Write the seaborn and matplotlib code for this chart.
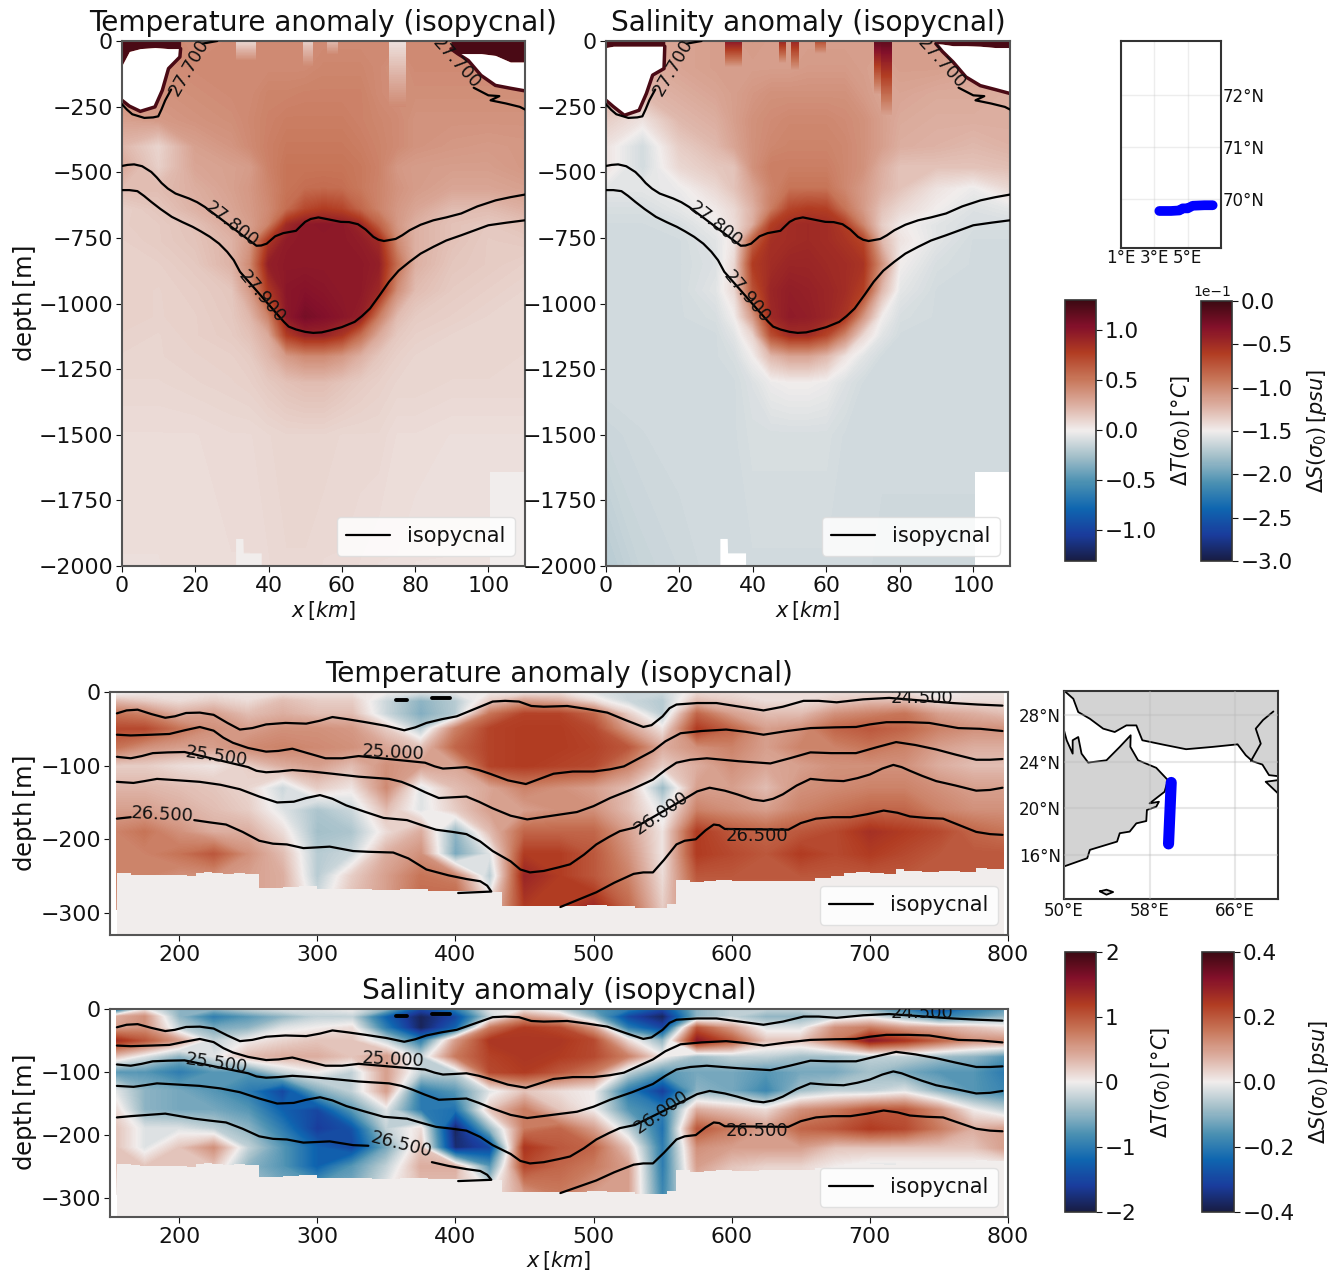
import numpy as np
import matplotlib
matplotlib.use('Agg')
import matplotlib.pyplot as plt
import seaborn as sns
from matplotlib.cm import ScalarMappable
from matplotlib.colors import Normalize

# --- colormap stops (red/blue diverging, pale centre)
balance_colors = ['#181c43', '#1a3c9c', '#0f66b0', '#4a90b2', '#a3bfc9', '#f1edec',
                  '#dcaea0', '#c77558', '#b13c22', '#83102a', '#3c0912']

# --- Norwegian Sea section
sec1_x = [0, 10, 20, 30, 35, 40, 45, 50, 55, 60, 65, 70, 75, 80, 90, 100, 110]
sec1_z = [0, -100, -200, -300, -400, -480, -560, -640, -700, -760, -850, -950, -1050, -1120, -1200, -1300, -1500, -2000]
sec1_temp = [
    [.55, .45, .40, .42, .42, .42, .42, .42, .42, .42, .42, .42, .42, .42, .42, .42, .45],
    [.40, .40, .42, .42, .42, .42, .42, .42, .44, .44, .44, .42, .38, .42, .42, .42, .42],
    [.40, .38, .40, .42, .42, .45, .45, .46, .46, .46, .46, .42, .40, .40, .40, .40, .40],
    [.32, .35, .38, .40, .43, .46, .48, .48, .48, .48, .46, .44, .42, .38, .38, .38, .38],
    [.22, .10, .32, .37, .42, .47, .50, .50, .50, .50, .48, .45, .42, .38, .36, .35, .36],
    [.28, .12, .30, .32, .34, .46, .52, .52, .52, .52, .50, .46, .36, .34, .33, .33, .36],
    [.20, .20, .26, .32, .36, .44, .52, .55, .56, .55, .50, .45, .38, .34, .30, .30, .32],
    [.12, .16, .24, .30, .35, .42, .55, .72, .78, .74, .58, .45, .36, .30, .20, .20, .25],
    [.13, .14, .18, .28, .33, .45, .88, .98, .99, .98, .90, .60, .36, .25, .18, .15, .18],
    [.12, .14, .17, .24, .36, .80, .97, .98, .98, .98, .96, .88, .42, .25, .18, .14, .15],
    [.12, .12, .15, .24, .42, .95, .98, .98, .98, .98, .98, .95, .55, .25, .16, .14, .12],
    [.12, .11, .13, .16, .35, .80, 1.0, 1.02, 1.0, .98, .98, .90, .40, .20, .14, .12, .10],
    [.12, .11, .12, .15, .22, .45, .98, 1.08, 1.04, 1.0, .95, .48, .20, .14, .12, .10, .10],
    [.11, .10, .12, .14, .18, .28, .78, .92, .92, .82, .55, .28, .15, .12, .10, .10, .10],
    [.10, .10, .11, .12, .14, .22, .35, .42, .42, .36, .25, .16, .12, .10, .10, .10, .09],
    [.09, .09, .10, .11, .12, .15, .18, .20, .20, .17, .14, .12, .10, .10, .09, .09, .09],
    [.07, .07, .07, .08, .08, .09, .10, .10, .10, .09, .09, .09, .07, .07, .06, .06, .06],
    [.06, .06, .07, .07, .07, .08, .09, .09, .08, .08, .07, .06, .06, .05, .05, .05, .05],
]
sec1_salt = [
    [-1.0, -1.15, -1.15, -1.12, -1.12, -1.1, -1.12, -1.12, -1.12, -1.12, -1.12, -1.12, -1.12, -1.12, -1.12, -1.15, -1.15],
    [-1.2, -1.2, -1.15, -1.12, -1.12, -1.12, -1.12, -1.12, -1.1, -1.1, -1.1, -1.12, -1.15, -1.12, -1.12, -1.15, -1.15],
    [-1.2, -1.25, -1.2, -1.15, -1.12, -1.08, -1.05, -1.05, -1.05, -1.05, -1.05, -1.1, -1.15, -1.15, -1.18, -1.18, -1.2],
    [-1.35, -1.45, -1.25, -1.2, -1.12, -1.05, -1.02, -1.0, -1.0, -1.0, -1.02, -1.05, -1.12, -1.18, -1.2, -1.2, -1.2],
    [-1.45, -1.62, -1.35, -1.25, -1.15, -1.05, -1.0, -.98, -.98, -.98, -1.0, -1.05, -1.12, -1.2, -1.22, -1.25, -1.22],
    [-1.45, -1.62, -1.4, -1.32, -1.3, -1.05, -.95, -.95, -.95, -.95, -1.0, -1.05, -1.2, -1.3, -1.3, -1.3, -1.28],
    [-1.55, -1.55, -1.52, -1.4, -1.3, -1.15, -.98, -.9, -.9, -.9, -1.0, -1.1, -1.22, -1.3, -1.45, -1.52, -1.4],
    [-1.6, -1.6, -1.55, -1.48, -1.4, -1.22, -.95, -.65, -.6, -.62, -.9, -1.1, -1.3, -1.4, -1.5, -1.58, -1.55],
    [-1.62, -1.62, -1.6, -1.52, -1.42, -1.2, -.62, -.5, -.48, -.5, -.6, -1.0, -1.35, -1.48, -1.56, -1.6, -1.6],
    [-1.62, -1.62, -1.62, -1.56, -1.45, -.8, -.52, -.5, -.48, -.5, -.55, -.65, -1.25, -1.45, -1.56, -1.62, -1.62],
    [-1.62, -1.62, -1.62, -1.58, -1.4, -.6, -.5, -.45, -.45, -.48, -.5, -.55, -1.05, -1.5, -1.6, -1.62, -1.62],
    [-1.62, -1.62, -1.62, -1.56, -1.4, -.72, -.45, -.4, -.42, -.45, -.5, -.62, -1.25, -1.55, -1.62, -1.62, -1.62],
    [-1.62, -1.62, -1.62, -1.6, -1.5, -1.1, -.48, -.38, -.4, -.45, -.55, -1.08, -1.5, -1.6, -1.62, -1.62, -1.62],
    [-1.62, -1.62, -1.62, -1.62, -1.56, -1.38, -.7, -.5, -.5, -.65, -1.0, -1.4, -1.56, -1.62, -1.62, -1.62, -1.62],
    [-1.62, -1.62, -1.62, -1.62, -1.6, -1.5, -1.25, -1.15, -1.15, -1.25, -1.45, -1.56, -1.62, -1.62, -1.62, -1.62, -1.62],
    [-1.62, -1.62, -1.62, -1.62, -1.62, -1.58, -1.52, -1.5, -1.5, -1.52, -1.58, -1.62, -1.62, -1.62, -1.62, -1.62, -1.62],
    [-1.65, -1.63, -1.62, -1.62, -1.62, -1.6, -1.6, -1.6, -1.6, -1.6, -1.62, -1.62, -1.62, -1.62, -1.62, -1.62, -1.62],
    [-1.72, -1.66, -1.64, -1.62, -1.62, -1.62, -1.62, -1.62, -1.62, -1.62, -1.62, -1.62, -1.64, -1.64, -1.64, -1.64, -1.64],
]

# isopycnals, first section
iso277a_x = [0, 1.4, 2.8, 6.1, 8.5, 9.9, 10.8, 11.8, 13.4]
iso277a_y = [-241, -262, -279, -293, -291, -287, -260, -226, -185]
iso277b_x = [22, 26]
iso277b_y = [-10, 0]
iso277c_x = [96, 100, 103, 100.6, 104.8, 108.6, 110]
iso277c_y = [-178, -207, -210, -226, -238, -251, -261]
iso278_x = [0, 1.5, 3.3, 5.5, 8, 9.5, 10.8, 12.5, 14.6, 18.3, 20.5, 22.6, 36.7, 38, 39.5, 41.8, 44, 47.5, 48.8, 50, 51.5, 53.6, 56.5, 59.7, 62, 64.4, 66.5, 68.6, 70, 71.5, 74.7, 76.5, 78.5, 81.5, 85, 88.5, 92.6, 97, 102, 106, 110]
iso278_y = [-476, -472, -470, -477, -499, -520, -541, -562, -581, -600, -614, -632, -780, -779, -772, -744, -732, -723, -705, -689, -678, -672, -680, -689, -690, -698, -718, -746, -757, -762, -754, -740, -721, -700, -683, -672, -657, -630, -607, -595, -585]
iso279_x = [0, 2, 4.2, 6, 8, 10.5, 13.6, 16.5, 19.3, 21.5, 24, 26.5, 28.7, 30.5, 32.2, 44.2, 45.5, 47.5, 50, 52.2, 54.5, 56.9, 60, 63.5, 65.5, 67.7, 70.5, 72.9, 75.5, 78.5, 81.5, 85, 88.5, 92.6, 96.5, 100, 105, 110]
iso279_y = [-568, -568, -572, -590, -613, -640, -670, -690, -708, -725, -746, -772, -803, -835, -879, -1070, -1088, -1099, -1108, -1112, -1110, -1102, -1090, -1070, -1048, -1019, -965, -917, -875, -841, -810, -784, -760, -740, -720, -702, -692, -683]

# no-data pockets near the surface (x, upper edge, lower edge)
pocket_l_x = [0, 2, 5, 9, 11, 12.7, 15.8, 16]
pocket_r_x = [89.8, 91.6, 94.5, 98, 101.9, 106, 110]
temp_pocket_l_top = [-93, -40, -29, -25, -27, -29, -29, -29]
temp_pocket_l_bot = [-226, -248, -268, -251, -188, -105, -61, -29]
temp_pocket_r_top = [-30, -48, -48, -48, -55, -80, -80]
temp_pocket_r_bot = [-30, -48, -74, -131, -169, -180, -190]
salt_pocket_l_top = [-25, -20, -20, -20, -20, -20, -20, -20]
salt_pocket_l_bot = [-226, -250, -283, -264, -200, -130, -105, -20]
salt_pocket_r_top = [-10, -12, -18, -18, -20, -25, -25]
salt_pocket_r_bot = [-10, -40, -80, -137, -170, -185, -200]

# near-surface streaks (x left, x right, depth, top value, background value)
temp_streaks = [(31, 36.5, -75, .08, .42), (49.5, 52, -95, .12, .42), (73, 77.6, -250, .05, .42), (56, 59, -50, .2, .42)]
salt_streaks = [(32.5, 37, -100, -.35, -1.12), (47, 49, -85, -.45, -1.12), (50.5, 52.5, -115, -.45, -1.12),
                (73, 75, -200, -.15, -1.12), (75, 78, -280, -.15, -1.12), (57, 60, -50, -.7, -1.12)]

# empty cells at the bottom (x, upper edge)
hole1_x = [31, 33, 33.1, 38]
hole1_top = [-1895, -1895, -1950, -1950]
hole2_x = [100.5, 110]
hole2_top = [-1642, -1642]

# --- Arabian Sea section
sec2_x = [155, 175, 200, 225, 250, 275, 300, 325, 350, 375, 400, 425, 450, 475, 500, 525, 550, 575, 600, 625, 650, 675, 700, 725, 750, 775, 797]
sec2_z = [0, -12, -30, -50, -75, -100, -130, -160, -190, -220, -250, -295]
sec2_temp = [
    [-.1, .0, .05, .05, .05, .05, .05, .05, .0, -.1, -.05, .0, .0, .05, -.1, -.2, -.2, .1, .1, .1, .1, .1, .1, .1, -.1, .05, .05],
    [.3, .2, .1, .2, .1, .3, .2, .2, -.2, -.5, -.3, .2, .5, .4, .1, -.2, -.3, .3, .2, .1, .1, .2, .3, .3, .1, .1, .1],
    [.8, .7, .4, .5, .3, .4, .3, .3, -.2, -.55, -.3, .8, 1.15, 1.15, .9, .2, -.3, .9, .5, .3, .3, .6, .7, .8, .5, .4, .3],
    [1.1, 1.1, .8, .6, .5, .6, .6, .55, .2, -.3, .7, 1.15, 1.2, 1.2, 1.1, .5, .05, 1.2, .9, .5, .6, .9, 1.0, .9, .7, .6, .6],
    [.8, .6, .5, .5, .65, .7, .65, .6, .45, .25, .9, 1.15, 1.2, 1.2, 1.15, 1.0, .4, .6, .7, .5, .7, .7, .8, .7, .5, .4, .4],
    [.2, .2, .1, .05, .2, .4, .5, .3, .6, .5, .45, 1.15, 1.2, 1.15, 1.1, .7, .2, .4, .6, .45, .5, .6, .6, .6, .4, .3, .3],
    [.35, .35, .3, .25, .15, -.2, .2, .05, .65, -.1, .3, .45, .7, .6, .5, .3, -.45, .5, .5, .3, .6, .65, .7, .7, .6, .5, .5],
    [.5, .5, .4, .3, .2, -.1, -.35, -.2, .3, -.1, .2, .5, .5, .6, .6, .3, -.1, .7, .6, .5, .7, .8, .9, .9, .7, .6, .6],
    [.7, .8, .6, .4, .4, .1, -.4, -.35, .1, .4, -.5, .3, .9, .9, .9, .5, .05, 1.2, 1.0, .9, 1.0, 1.1, 1.3, 1.2, 1.1, .9, .8],
    [.7, .7, .8, 1.0, .6, .3, -.3, -.2, .4, .6, -.6, -.1, 1.2, 1.2, 1.0, .6, .05, 1.2, 1.1, 1.0, 1.2, 1.1, 1.2, 1.1, 1.0, 1.0, 1.0],
    [.7, .7, .6, .6, .5, .4, -.3, .2, .5, .8, .7, -.3, 1.4, 1.2, 1.0, .7, .1, 1.0, 1.0, 1.0, 1.0, 1.0, 1.0, 1.0, 1.0, 1.0, 1.0],
    [.5, .5, .5, .5, .5, .4, -.1, .3, .5, .9, 1.0, .2, 1.2, 1.2, 1.4, .9, .2, .8, .8, .8, .8, .8, .8, .8, .8, .8, .8],
]
sec2_salt = [
    [-.25, .0, -.1, -.1, -.05, -.02, -.02, 0, -.1, -.3, -.2, -.02, .0, -.05, -.15, -.2, -.3, -.1, -.05, -.05, -.05, -.05, -.1, -.2, -.3, -.2, -.15],
    [.08, .12, -.1, -.2, -.15, -.1, -.05, -.05, -.25, -.38, -.3, -.05, .1, .05, -.1, -.3, -.38, -.1, -.05, -.1, -.1, -.05, -.02, -.1, -.2, -.15, -.1],
    [.1, .12, -.05, -.12, -.1, -.02, 0, .02, -.2, -.38, -.25, .15, .24, .22, .1, -.2, -.3, .2, .1, -.02, -.02, .12, .15, .1, .08, .05, .02],
    [.26, .2, .1, -.05, 0, .03, .05, .05, -.05, -.2, .1, .25, .25, .25, .22, .02, -.1, .3, .2, .05, .05, .15, .3, .25, .18, .12, .12],
    [.05, -.02, -.1, -.02, .06, .08, .08, .05, .1, -.05, .15, .23, .25, .24, .22, .14, .0, -.08, -.05, -.05, -.08, -.08, -.05, -.05, -.08, -.1, -.15],
    [-.15, -.15, -.2, -.15, -.15, -.05, .0, -.05, .1, -.05, -.05, .22, .24, .2, .15, -.05, -.15, -.12, -.12, -.15, -.12, -.12, -.08, -.12, -.15, -.15, -.2],
    [-.02, -.1, -.12, -.15, -.2, -.3, -.12, -.05, .1, -.2, -.15, -.02, .05, .02, .0, -.2, -.32, -.1, -.12, -.18, -.08, -.05, -.05, -.02, -.1, -.15, -.18],
    [.02, -.1, -.12, -.12, -.15, -.25, -.3, -.15, -.02, -.2, -.22, .05, .15, .05, -.0, -.15, -.2, .08, .05, .02, .12, .15, .2, .2, .12, .0, -.05],
    [.05, -.02, -.02, -.05, -.1, -.2, -.32, -.28, -.05, .02, -.38, -.1, .15, .18, .1, -.05, -.22, .2, .15, .1, .18, .2, .24, .22, .15, .08, .1],
    [.05, -.02, .05, .12, -.05, -.15, -.25, -.3, -.12, .05, -.36, -.3, .25, .2, .18, .05, -.2, .12, .1, .1, .1, .05, .05, .05, .05, .05, .1],
    [.05, .05, .05, .05, -.1, -.15, -.25, -.15, -.05, .08, .08, -.15, .22, .18, .15, .1, -.2, .1, .05, .03, .03, .0, -.02, -.02, -.02, -.02, -.02],
    [0, 0, 0, 0, -.1, -.1, -.1, -.1, 0, .05, .05, 0, .1, .15, .1, .1, -.18, .05, .03, .02, .02, 0, 0, 0, 0, 0, 0],
]

# sea floor of the second section
floor_x = [155, 165, 172, 206, 212, 218, 224, 232, 240, 248, 258, 275, 287, 300, 320, 340, 360, 380, 400, 420, 434, 470, 495, 510, 530, 546, 553, 560, 570, 580, 589, 600, 620, 647, 660, 672, 681, 690, 700, 710, 719, 725, 738, 750, 765, 777, 785, 797]
floor_z = [-246, -248, -249, -250, -246, -244, -246, -247, -246, -247, -266, -265, -264, -268, -268, -269, -268, -270, -270, -271, -291, -291, -289, -291, -293, -294, -288, -255, -258, -257, -255, -257, -256, -256, -253, -250, -246, -244, -246, -247, -241, -243, -245, -243, -245, -239, -241, -243]

iso245_x = [155, 162, 170, 180, 190, 197, 205, 215, 225, 235, 244, 253, 263, 277, 292, 302, 311, 322, 335, 350, 363, 371, 379, 390, 401, 414, 427, 436, 446, 455, 464, 481, 495, 510, 523, 536, 542, 550, 555, 560, 575, 589, 606, 623, 637, 652, 663, 676, 695, 714, 760, 778, 796]
iso245_y = [-29, -25, -24, -30, -35, -33, -28.5, -28, -31, -42, -51, -49, -44, -42, -43, -39, -34, -37, -41, -46, -52, -48, -42, -37, -33, -23, -13, -12, -13, -19, -20, -19, -23, -28, -38, -47.5, -45, -33, -22, -17, -15, -15, -20, -25, -20, -12, -12, -14, -10, -8, -15, -17, -18.5]
iso250_x = [155, 165, 180, 193, 204, 215, 225, 232, 239, 250, 263, 272, 282, 293, 306, 318, 330, 378, 385, 391, 400, 408, 417, 425, 438, 451, 461, 471, 485, 500, 512, 522, 533, 543, 552, 563, 578, 596, 610, 623, 640, 657, 675, 690, 700, 712, 728, 743, 755, 764, 780, 796]
iso250_y = [-58, -59, -58, -57, -52, -47.5, -52.5, -62, -69, -76, -81, -80, -77, -83, -90, -90, -87, -96, -101, -104, -103, -102, -106, -111, -120, -125, -118, -111, -108, -108, -105, -101, -90, -80, -67, -56, -53, -51, -54, -58, -53, -49, -48, -47.5, -44, -41, -41, -42, -46, -49, -50, -53]
iso255_x = [155, 165, 173, 181, 192, 204, 250, 256, 263, 272, 282, 296, 311, 330, 352, 361, 369, 378, 388, 398, 408, 417, 427, 440, 452, 470, 488, 500, 512, 528, 543, 552, 560, 570, 582, 605, 628, 642, 657, 672, 690, 705, 719, 733, 748, 762, 777, 787, 796]
iso255_y = [-88, -90, -87, -83, -82, -81.5, -102, -107, -109, -108, -106, -108, -111, -115, -118, -122, -128, -136, -144, -143, -142, -149, -158, -168, -173, -168, -163, -155, -144, -132, -119, -106, -96, -92, -90, -94, -97, -90, -82, -83, -83, -75, -68, -72, -78, -85, -92, -92, -91]
iso260_x = [155, 167, 175, 184, 200, 215, 230, 244, 258, 271, 283, 292, 302, 311, 321, 335, 348, 365, 376, 386, 398, 408, 418, 427, 440, 447, 454, 464, 475, 483, 493, 502, 511, 519, 530, 567, 575, 584, 595, 604, 615, 623, 630, 637, 647, 657, 668, 681, 691, 700, 709, 717, 723, 729, 738, 748, 762, 777, 787, 796]
iso260_y = [-122, -123.5, -121, -118, -120, -122, -126, -132, -142, -150, -149, -144, -140, -145, -154, -163, -171, -174, -181, -187, -190, -193, -203, -216, -230, -241, -245, -243, -238, -234, -221, -207, -197, -189, -184, -144, -135, -130, -134, -139, -146, -148, -145, -139, -127, -118, -120, -121, -117, -112, -104, -99, -102, -107, -114, -121, -127, -134, -133, -130]
iso265a_x = [155, 165, 190, 211, 222, 234, 246, 258, 268, 278, 290, 300, 309, 326, 337, 355, 366, 379, 383, 395, 408, 418, 423, 426, 414, 402]
iso265a_y = [-172, -170, -166, -174, -177, -180, -190, -202, -206, -207, -212, -211, -210, -216, -217, -218, -226, -241, -243, -249, -254, -257, -263, -271, -272, -273]
iso265b_x = [476, 489, 502, 515, 529, 536, 543, 551, 560, 566, 574, 581, 587, 591, 595, 641, 650, 661, 673, 686, 698, 710, 720, 729, 741, 753, 765, 777, 787, 796]
iso265b_y = [-292, -282, -272, -259, -247, -245, -245, -228, -207, -202, -200, -188, -180, -181, -186, -187, -178, -172, -170, -170, -166, -161, -164, -169, -171, -172, -181, -190, -193, -194]
blob_a_x = [357, 365]
blob_a_y = [-11, -11]
blob_b_x = [383, 396]
blob_b_y = [-8, -8]

# --- maps
track1_lon = [3.3, 4.0, 4.5, 4.7, 5.0, 5.3, 6.0, 6.5]
track1_lat = [69.77, 69.77, 69.78, 69.82, 69.82, 69.87, 69.88, 69.88]
track2_lon = [60.02, 59.77]
track2_lat = [22.23, 16.94]
north_lon = [50, 50.87, 51.33, 52.42, 53.66, 54.74, 55.83, 56.76, 57.32, 59.24, 61.41, 63.89, 66.22, 66.99, 67.61, 68.54, 69.16, 70]
north_lat = [30.14, 29.43, 28.29, 27.71, 26.86, 26.57, 27.14, 27.14, 25.86, 25.49, 25.09, 25.29, 25.51, 24.57, 24.06, 23.77, 22.86, 22.77]
arabia_lon = [50, 50.25, 50.81, 50.81, 51.33, 51.64, 52.26, 53.97, 55.21, 56.23, 56.2, 56.92, 58.62, 59.71, 59.4, 58, 58.87, 58.62, 57.75, 57.69, 56.76, 56.14, 55.21, 54.96, 52.42, 52.17, 50]
arabia_lat = [26.71, 25.86, 24.71, 25.86, 26.14, 24.71, 23.94, 24.14, 25.29, 26.29, 25.29, 24.14, 23.49, 22.43, 21.43, 20.43, 20.57, 20.14, 19.86, 18.91, 18.71, 18, 17.86, 17.14, 16.43, 15.71, 15]
gujarat_lon = [70, 68.85, 70]
gujarat_lat = [21.29, 22.29, 22.43]
island_lon = [53.35, 53.97, 54.59, 53.97, 53.35]
island_lat = [12.86, 13, 12.8, 12.57, 12.86]
river_lon = [69.57, 68.6, 67.92, 68.39, 67.46]
river_lat = [28.34, 27.6, 26.86, 25.57, 24.06]

W, H = 1338, 1273
ZERO_COLOR = '#f1edec'
DARK_RED = '#4a0a15'

sns.set_style('ticks')
plt.rcParams['font.family'] = 'DejaVu Sans'
plt.rcParams['axes.edgecolor'] = '#555555'
plt.rcParams['axes.linewidth'] = 1.5
plt.rcParams['xtick.color'] = '#111111'
plt.rcParams['ytick.color'] = '#111111'
plt.rcParams['xtick.labelsize'] = 15.8
plt.rcParams['ytick.labelsize'] = 15.8
plt.rcParams['xtick.major.size'] = 4
plt.rcParams['ytick.major.size'] = 4
plt.rcParams['ytick.major.pad'] = 2.5
plt.rcParams['text.color'] = '#111111'
plt.rcParams['axes.labelcolor'] = '#111111'

balance = sns.blend_palette(balance_colors, n_colors=256, as_cmap=True)


def axes_px(fig, left, top, right, bottom):
    return fig.add_axes([left / W, 1 - bottom / H, (right - left) / W, (bottom - top) / H])


def shade(ax, x, z, field, vmin, vmax, zorder=1):
    levels = np.linspace(vmin, vmax, 513)
    ax.contourf(x, z, np.array(field), levels=levels, cmap=balance, vmin=vmin, vmax=vmax, extend='both', zorder=zorder)


def draw_iso(ax, xs, ys, gaps=(), label=None):
    # cut the line where an inline label sits
    xs = np.array(xs)
    ys = np.array(ys)
    keep = np.ones(len(xs), dtype=bool)
    for a, b in gaps:
        keep &= ~((xs > a) & (xs < b))
    segments = []
    cur = []
    for i in range(len(xs)):
        if keep[i]:
            cur.append(i)
        elif cur:
            segments.append(cur)
            cur = []
    if cur:
        segments.append(cur)
    for seg in segments:
        sns.lineplot(x=xs[seg], y=ys[seg], ax=ax, color='black', linewidth=1.6, sort=False,
                     estimator=None, errorbar=None, label=label, legend=label is not None, zorder=4)
        label = None


def add_legend(ax):
    ax.legend(loc='lower right', fontsize=15, frameon=True, framealpha=0.85, handlelength=2.1,
              borderpad=0.45, edgecolor='#dddddd')


def add_colorbar(fig, box, vmin, vmax, ticks, label, label_px):
    cax = axes_px(fig, *box)
    cb = fig.colorbar(ScalarMappable(Normalize(vmin, vmax), balance), cax=cax)
    cb.set_ticks(ticks)
    cb.outline.set_linewidth(1.2)
    cb.outline.set_edgecolor('#333333')
    cb.ax.tick_params(labelsize=15.5, length=4)
    cb.set_label(label, fontsize=15)
    cb.ax.yaxis.set_label_coords((label_px - box[0]) / (box[2] - box[0]), 0.5)
    return cb


def ylabel_px(ax, left, width):
    ax.set_ylabel(r'depth$\,$[m]', fontsize=17.5)
    ax.yaxis.set_label_coords((39 - left) / width, 0.5)


def draw_section1(ax, field, vmin, vmax, pocket_l, pocket_r, streaks, hole_color):
    shade(ax, sec1_x, sec1_z, field, vmin, vmax)
    for x0, x1, depth, top_val, bg in streaks:
        shade(ax, [x0, x1], [0, depth], [[top_val, top_val], [bg, bg]], vmin, vmax, zorder=1.1)
    ax.fill_between(hole1_x, hole1_top, -2000, color=hole_color, lw=0, zorder=1.2)
    ax.fill_between(hole2_x, hole2_top, -2000, color=hole_color, lw=0, zorder=1.2)
    for px, top, bot in [(pocket_l_x, pocket_l[0], pocket_l[1]), (pocket_r_x, pocket_r[0], pocket_r[1])]:
        ax.fill_between(px, 0, top, color=DARK_RED, lw=0, zorder=1.3)
        ax.fill_between(px, top, bot, color='white', lw=0, zorder=1.4)
        sns.lineplot(x=px, y=bot, ax=ax, color=DARK_RED, linewidth=2.5, sort=False, estimator=None,
                     errorbar=None, legend=False, zorder=1.5)
    draw_iso(ax, iso277a_x, iso277a_y)
    draw_iso(ax, iso277b_x, iso277b_y)
    draw_iso(ax, iso277c_x, iso277c_y)
    draw_iso(ax, iso278_x, iso278_y, gaps=[(22.7, 36.6)], label='isopycnal')
    draw_iso(ax, iso279_x, iso279_y, gaps=[(32.3, 44.1)])
    text_kw = dict(fontsize=13, ha='center', va='center', clip_on=True, zorder=5, rotation_mode='anchor')
    ax.text(18.3, -99, '27.700', rotation=60, **text_kw)
    ax.text(91.2, -85, '27.700', rotation=-48, **text_kw)
    ax.text(29.8, -700, '27.800', rotation=-38, **text_kw)
    ax.text(38.2, -975, '27.900', rotation=-50, **text_kw)
    ax.set_xlim(0, 110)
    ax.set_ylim(-2000, 0)
    ax.set_xticks([0, 20, 40, 60, 80, 100])
    ax.set_yticks(np.arange(-2000, 1, 250))
    ax.set_xlabel(r'$x\,[km]$', fontsize=15, labelpad=1.5)
    add_legend(ax)


def draw_section2(ax, field, vmin, labels, gap265):
    shade(ax, sec2_x, sec2_z, field, vmin, -vmin)
    ax.fill_between(floor_x, floor_z, -330, color=ZERO_COLOR, lw=0, step='post', zorder=1.2)
    draw_iso(ax, iso245_x, iso245_y, gaps=[(715, 759)])
    draw_iso(ax, iso250_x, iso250_y, gaps=[(331, 377)])
    draw_iso(ax, iso255_x, iso255_y, gaps=[(205, 249)])
    draw_iso(ax, iso260_x, iso260_y, gaps=[(531, 566)])
    draw_iso(ax, iso265a_x, iso265a_y, gaps=[gap265])
    draw_iso(ax, iso265b_x, iso265b_y, gaps=[(596, 640)], label='isopycnal')
    for bx, by in [(blob_a_x, blob_a_y), (blob_b_x, blob_b_y)]:
        sns.lineplot(x=bx, y=by, ax=ax, color='black', linewidth=2.8, sort=False, estimator=None,
                     errorbar=None, legend=False, zorder=4)
    for lx, ly, txt, rot in labels:
        ax.text(lx, ly, txt, rotation=rot, fontsize=13, ha='center', va='center', clip_on=True, zorder=5,
                rotation_mode='anchor')
    ax.set_xlim(150, 800)
    ax.set_ylim(-330, 0)
    ax.set_xticks(range(200, 801, 100))
    ax.set_yticks([0, -100, -200, -300])
    ylabel_px(ax, 110, 898)
    add_legend(ax)


fig = plt.figure(figsize=(W / 100, H / 100), dpi=100)

ax_a = axes_px(fig, 122, 41, 525, 566)
draw_section1(ax_a, sec1_temp, -1.3, 1.3, (temp_pocket_l_top, temp_pocket_l_bot),
              (temp_pocket_r_top, temp_pocket_r_bot), temp_streaks, ZERO_COLOR)
ylabel_px(ax_a, 122, 403)
ax_a.set_title('Temperature anomaly (isopycnal)', fontsize=20.2, pad=7)

ax_b = axes_px(fig, 606, 41, 1010, 566)
draw_section1(ax_b, sec1_salt, -3, 0, (salt_pocket_l_top, salt_pocket_l_bot),
              (salt_pocket_r_top, salt_pocket_r_bot), salt_streaks, 'white')
ax_b.set_title('Salinity anomaly (isopycnal)', fontsize=20.2, pad=7)

ax_c = axes_px(fig, 110, 692, 1008, 935)
labels_c = [(227, -87, '25.500', -8), (355, -82, '25.000', -3), (188, -167, '26.500', -3),
            (738, -8, '24.500', 0), (549, -164, '26.000', 35), (618, -195, '26.500', 0)]
draw_section2(ax_c, sec2_temp, -2, labels_c, (166, 210))
ax_c.set_title('Temperature anomaly (isopycnal)', fontsize=20.2, pad=7)

ax_d = axes_px(fig, 110, 1009, 1008, 1217)
labels_d = [(227, -87, '25.500', -8), (355, -80, '25.000', -3), (361, -216, '26.500', -14),
            (738, -7, '24.500', 0), (549, -164, '26.000', 35), (618, -193, '26.500', 0)]
draw_section2(ax_d, sec2_salt, -0.4, labels_d, (338, 382))
ax_d.set_title('Salinity anomaly (isopycnal)', fontsize=20.2, pad=7)
ax_d.set_xlabel(r'$x\,[km]$', fontsize=15, labelpad=1.5)

# track map, north
ax_m1 = axes_px(fig, 1121, 41, 1221, 248)
sns.lineplot(x=track1_lon, y=track1_lat, ax=ax_m1, color='blue', linewidth=7, sort=False, estimator=None,
             errorbar=None, legend=False, solid_capstyle='round')
ax_m1.set_xlim(1, 7)
ax_m1.set_ylim(69.06, 73.03)
ax_m1.set_xticks([1, 3, 5])
ax_m1.set_xticklabels(['1°E', '3°E', '5°E'], fontsize=12)
ax_m1.set_yticks([70, 71, 72])
ax_m1.set_yticklabels(['70°N', '71°N', '72°N'], fontsize=12)
ax_m1.yaxis.tick_right()
ax_m1.tick_params(length=0, pad=1)
ax_m1.grid(True, color='#cccccc', alpha=0.35, lw=1)
for s in ax_m1.spines.values():
    s.set_edgecolor('#333333')

# track map, Arabian Sea
ax_m2 = axes_px(fig, 1064, 691, 1278, 899)
ax_m2.fill(north_lon + [70, 50], north_lat + [30.14, 30.14], facecolor='lightgray', edgecolor='none', zorder=1.5)
for lon, lat in [(arabia_lon, arabia_lat), (gujarat_lon, gujarat_lat), (island_lon, island_lat)]:
    ax_m2.fill(lon, lat, facecolor='lightgray', edgecolor='none', zorder=1.5)
for lon, lat in [(north_lon, north_lat), (arabia_lon, arabia_lat), (gujarat_lon, gujarat_lat),
                 (island_lon, island_lat), (river_lon, river_lat)]:
    sns.lineplot(x=lon, y=lat, ax=ax_m2, color='black', linewidth=1.3, sort=False, estimator=None,
                 errorbar=None, legend=False, zorder=2)
sns.lineplot(x=track2_lon, y=track2_lat, ax=ax_m2, color='blue', linewidth=8, sort=False, estimator=None,
             errorbar=None, legend=False, solid_capstyle='round', zorder=3)
ax_m2.set_xlim(50, 70)
ax_m2.set_ylim(12.2, 30.1)
ax_m2.set_xticks([50, 58, 66])
ax_m2.set_xticklabels(['50°E', '58°E', '66°E'], fontsize=12)
ax_m2.set_yticks([16, 20, 24, 28])
ax_m2.set_yticklabels(['16°N', '20°N', '24°N', '28°N'], fontsize=12)
ax_m2.tick_params(length=0, pad=2)
ax_m2.grid(True, color='#bbbbbb', alpha=0.35, lw=1.5, zorder=2.5)
ax_m2.set_axisbelow(False)
for s in ax_m2.spines.values():
    s.set_edgecolor('#333333')

# colorbars
add_colorbar(fig, (1065, 300, 1096, 561), -1.305, 1.305, [-1, -0.5, 0, 0.5, 1], r'$\Delta T(\sigma_0)\,[°C]$', 1169)
add_colorbar(fig, (1201, 301, 1232, 561), -3, 0, np.arange(-3, 0.1, 0.5), r'$\Delta S(\sigma_0)\,[psu]$', 1305)
fig.text(1212 / W, 1 - 292 / H, '1e−1', fontsize=10, ha='center', va='center')
add_colorbar(fig, (1065, 952, 1096, 1212), -2, 2, [-2, -1, 0, 1, 2], r'$\Delta T(\sigma_0)\,[°C]$', 1149)
add_colorbar(fig, (1202, 952, 1234, 1212), -0.4, 0.4, [-0.4, -0.2, 0, 0.2, 0.4], r'$\Delta S(\sigma_0)\,[psu]$', 1307)

fig.savefig('out.png', dpi=100)
